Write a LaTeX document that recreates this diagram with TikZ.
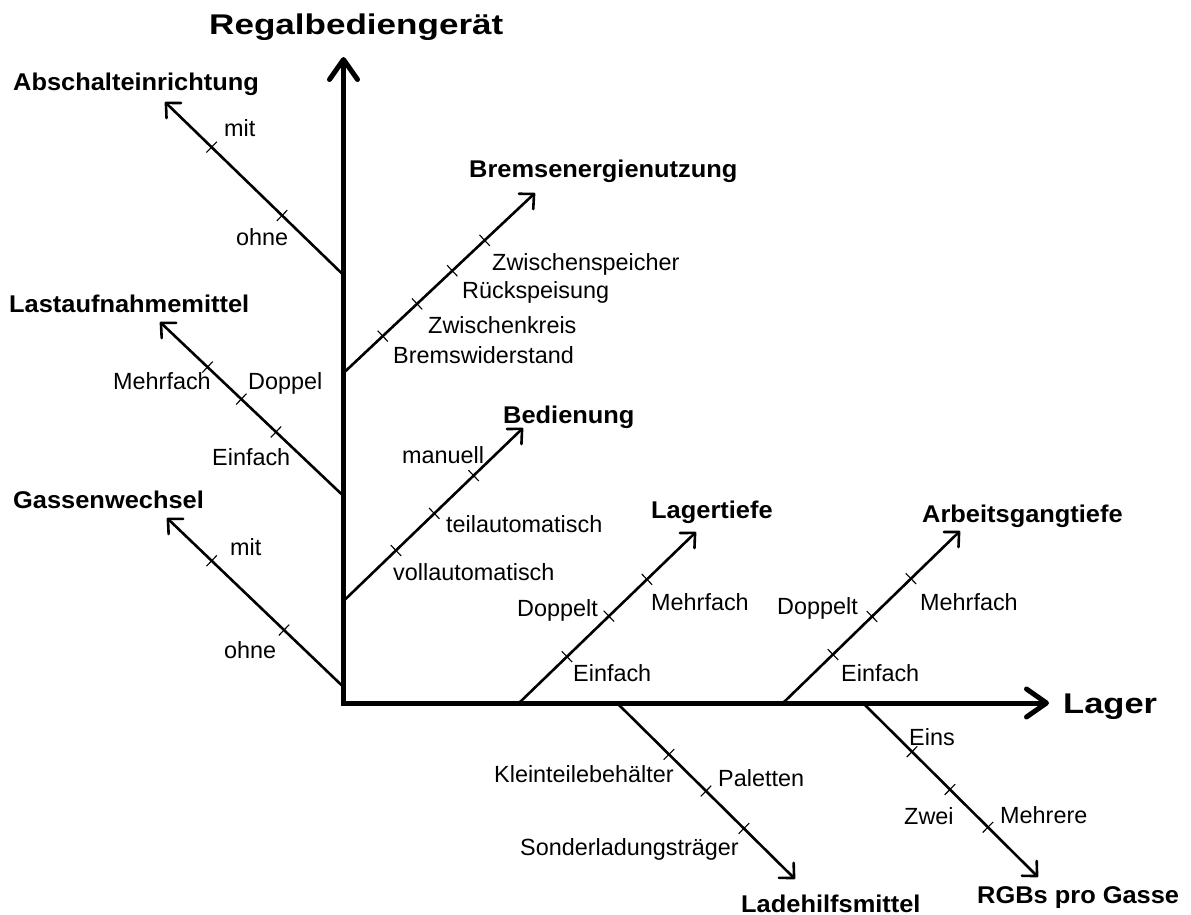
\documentclass[tikz,border=0pt]{standalone}
\usepackage{fontspec}
\usepackage{graphicx}
\setmainfont{Liberation Sans}
\usetikzlibrary{arrows.meta}
\tikzset{
  axisline/.style={line width=5pt, line join=miter, {Straight Barb[length=20pt, width=28pt, line cap=round, line join=round]}-{Straight Barb[length=20pt, width=28pt, line cap=round, line join=round]}},
  branch/.style={line width=2.6pt, -{Straight Barb[length=11pt, width=21pt, line cap=round, line join=round]}},
  tick/.style={sloped, draw, line width=1.1pt, rectangle, minimum width=0pt, minimum height=15pt, inner sep=0pt, outer sep=0pt},
  lbl/.style={anchor=base west, inner sep=0pt, font=\fontsize{23.4}{28}\selectfont},
  head/.style={anchor=base west, inner sep=0pt, font=\fontsize{24.2}{29}\selectfont\bfseries},
  big/.style={anchor=base west, inner sep=0pt, font=\fontsize{28.5}{34}\selectfont\bfseries},
}
\newcommand{\hd}[1]{\scalebox{1.05}[1]{#1}}
\begin{document}
\begin{tikzpicture}[x=1pt, y=-1pt]
\useasboundingbox (0,0) rectangle (1191,915);
% axes
\coordinate (ytip) at (343.5,57);
\coordinate (origin) at (343.5,703);
\coordinate (xtip) at (1049,703);
\draw[axisline] (ytip) -- (origin) -- (xtip);
% branch roots
\coordinate (a0) at (343.5,275);  \coordinate (a1) at (165,102);
\coordinate (b0) at (343.5,373);  \coordinate (b1) at (535,193);
\coordinate (c0) at (343.5,496);  \coordinate (c1) at (160,322);
\coordinate (d0) at (343.5,601);  \coordinate (d1) at (523,428);
\coordinate (e0) at (343.5,687);  \coordinate (e1) at (167,518);
\coordinate (f0) at (519,703);  \coordinate (f1) at (696,532);
\coordinate (g0) at (783,703);  \coordinate (g1) at (960,531);
\coordinate (h0) at (617,703);  \coordinate (h1) at (795,879);
\coordinate (k0) at (863,703);  \coordinate (k1) at (1038,877);
% branches with ticks
\draw[branch] (a0) -- node[tick,pos=0.344]{} node[tick,pos=0.739]{} (a1);
\draw[branch] (b0) -- node[tick,pos=0.205]{} node[tick,pos=0.384]{} node[tick,pos=0.568]{} node[tick,pos=0.737]{} (b1);
\draw[branch] (c0) -- node[tick,pos=0.368]{} node[tick,pos=0.557]{} node[tick,pos=0.741]{} (c1);
\draw[branch] (d0) -- node[tick,pos=0.292]{} node[tick,pos=0.506]{} node[tick,pos=0.725]{} (d1);
\draw[branch] (e0) -- node[tick,pos=0.337]{} node[tick,pos=0.747]{} (e1);
\draw[branch] (f0) -- node[tick,pos=0.271]{} node[tick,pos=0.508]{} node[tick,pos=0.723]{} (f1);
\draw[branch] (g0) -- node[tick,pos=0.282]{} node[tick,pos=0.503]{} node[tick,pos=0.723]{} (g1);
\draw[branch] (h0) -- node[tick,pos=0.292]{} node[tick,pos=0.5]{} node[tick,pos=0.713]{} (h1);
\draw[branch] (k0) -- node[tick,pos=0.28]{} node[tick,pos=0.497]{} node[tick,pos=0.714]{} (k1);
% big titles
\node[big] (tRBG) at (209,34.5) {\scalebox{1.23}[1]{Regalbediengerät}};
\node[big] (tLager) at (1063,713.5) {\scalebox{1.21}[1]{Lager}};
% headers
\node[head] (hA) at (13,91) {\hd{Abschalteinrichtung}};
\node[head] (hB) at (469,177) {\hd{Bremsenergienutzung}};
\node[head] (hC) at (9,312) {\hd{Lastaufnahmemittel}};
\node[head] (hD) at (503,423) {\hd{Bedienung}};
\node[head] (hE) at (13,508) {\hd{Gassenwechsel}};
\node[head] (hF) at (651,518) {\hd{Lagertiefe}};
\node[head] (hG) at (922,522) {\hd{Arbeitsgangtiefe}};
\node[head] (hH) at (741,912) {\hd{Ladehilfsmittel}};
\node[head] (hK) at (977,903) {\hd{RGBs pro Gasse}};
% labels
\node[lbl] (la1) at (224,137) {mit};
\node[lbl] (la2) at (236,245) {ohne};
\node[lbl] (lb4) at (492,270) {Zwischenspeicher};
\node[lbl] (lb3) at (462,298) {Rückspeisung};
\node[lbl] (lb2) at (428,333) {Zwischenkreis};
\node[lbl] (lb1) at (393,363) {Bremswiderstand};
\node[lbl] (lc3) at (113,389) {Mehrfach};
\node[lbl] (lc2) at (248,389) {Doppel};
\node[lbl] (lc1) at (212,465) {Einfach};
\node[lbl] (le2) at (230,555) {mit};
\node[lbl] (le1) at (224,658) {ohne};
\node[lbl] (ld3) at (402,463) {manuell};
\node[lbl] (ld2) at (446,532) {teilautomatisch};
\node[lbl] (ld1) at (393,580) {vollautomatisch};
\node[lbl] (lf2) at (517,616) {Doppelt};
\node[lbl] (lf3) at (651,610) {Mehrfach};
\node[lbl] (lf1) at (573,681) {Einfach};
\node[lbl] (lg2) at (777,614) {Doppelt};
\node[lbl] (lg3) at (920,610) {Mehrfach};
\node[lbl] (lg1) at (841,681) {Einfach};
\node[lbl] (lh1) at (494,782) {Kleinteilebehälter};
\node[lbl] (lh2) at (718,786) {Paletten};
\node[lbl] (lh3) at (520,855) {Sonderladungsträger};
\node[lbl] (lk1) at (909,745) {Eins};
\node[lbl] (lk2) at (904,824) {Zwei};
\node[lbl] (lk3) at (1000,823) {Mehrere};
\end{tikzpicture}
\end{document}
